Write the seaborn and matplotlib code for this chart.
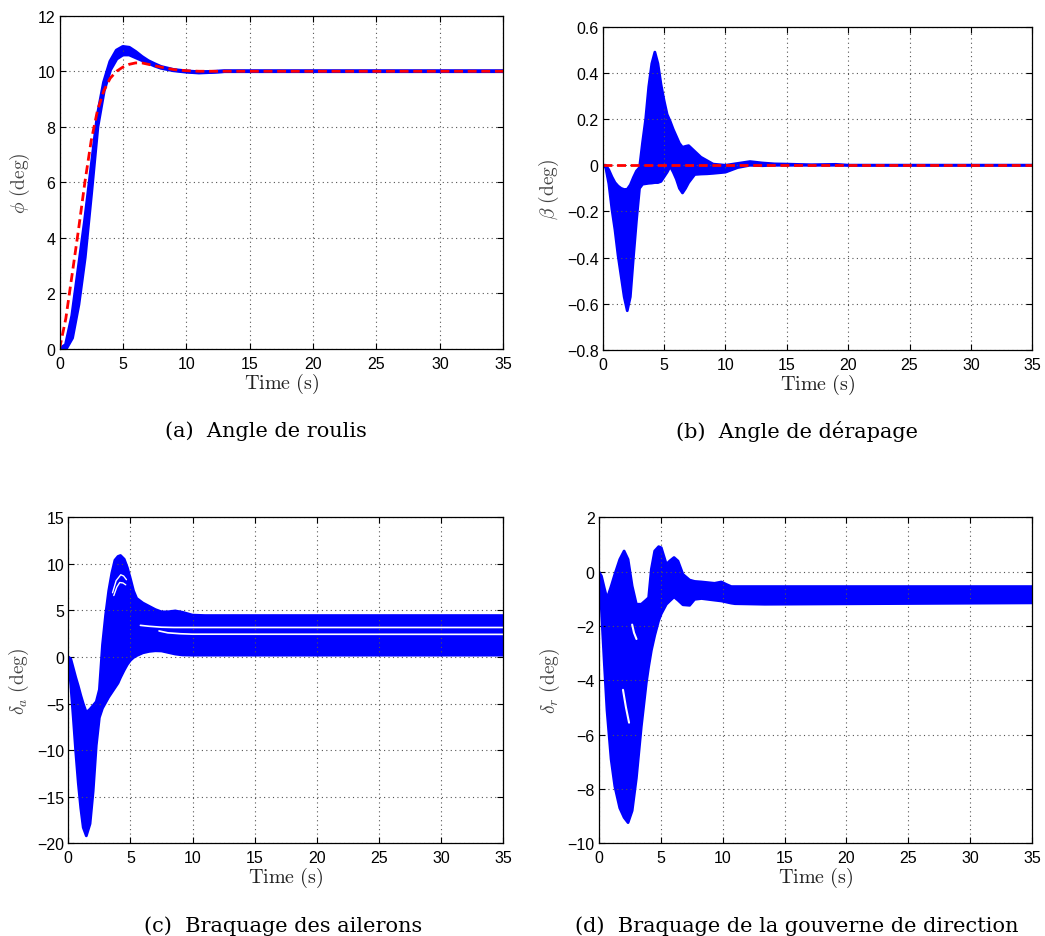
import numpy as np
import pandas as pd
import matplotlib
matplotlib.use("Agg")
import matplotlib.pyplot as plt
import seaborn as sns

# ---------------- data ----------------
# (a) roll angle phi: fastest / slowest simulated runs and the reference
t_a = [0, 0.5, 1, 1.5, 2, 2.5, 3, 3.5, 4, 4.5, 5, 5.5, 6, 6.5, 7, 7.5, 8, 9, 10, 11, 12, 13, 35]
phi_fast = [0, 0.15, 1.2, 2.9, 4.6, 6.5, 8.4, 9.6, 10.35, 10.75, 10.88, 10.85, 10.7, 10.52,
            10.37, 10.26, 10.16, 10.05, 10.0, 9.97, 9.98, 10.0, 10.0]
phi_slow = [0, 0.0, 0.4, 1.6, 3.3, 5.6, 8.0, 9.3, 10.05, 10.45, 10.6, 10.6, 10.5, 10.4,
            10.3, 10.2, 10.12, 10.03, 9.98, 9.95, 9.97, 10.0, 10.0]
phi_ref = [0, 1.1, 2.7, 4.3, 6.0, 7.5, 8.6, 9.3, 9.75, 10.0, 10.15, 10.25, 10.3, 10.3,
           10.25, 10.2, 10.15, 10.06, 10.02, 10.0, 10.0, 10.0, 10.0]

# (b) sideslip angle beta: upper / lower envelope of the runs
t_b = [0, 0.25, 0.5, 0.75, 1.0, 1.25, 1.5, 1.75, 2.0, 2.25, 2.5, 2.75, 3.0, 3.25, 3.5, 3.75,
       4.0, 4.25, 4.5, 4.75, 5.0, 5.25, 5.5, 5.75, 6.0, 6.25, 6.5, 6.75, 7.0, 7.5, 8.0, 8.5,
       9.0, 10.0, 11.0, 12.0, 13.0, 14.0, 15.0, 17.0, 19.0, 20.0, 35.0]
beta_hi = [0, 0, -0.02, -0.05, -0.075, -0.09, -0.1, -0.105, -0.104, -0.085, -0.053, -0.025,
           -0.01, 0.1, 0.2, 0.34, 0.44, 0.49, 0.44, 0.35, 0.28, 0.22, 0.19, 0.155, 0.125,
           0.095, 0.078, 0.082, 0.085, 0.06, 0.035, 0.02, 0.005, 0.0, 0.008, 0.016, 0.01,
           0.006, 0.005, 0.002, 0.004, 0.0, 0.0]
beta_lo = [0, -0.01, -0.08, -0.19, -0.28, -0.39, -0.48, -0.57, -0.63, -0.57, -0.4, -0.24,
           -0.1, -0.082, -0.08, -0.078, -0.077, -0.075, -0.075, -0.07, -0.05, -0.03, -0.005,
           -0.03, -0.06, -0.1, -0.12, -0.1, -0.075, -0.04, -0.038, -0.037, -0.035, -0.03,
           -0.01, 0.0, -0.002, 0.0, 0.0, 0.0, 0.0, 0.0, 0.0]
beta_ref_t = [0, 35]
beta_ref = [0, 0]

# (c) aileron deflection delta_a: envelope and visible gaps between runs
t_c = [0, 0.2, 0.4, 0.6, 0.8, 1.0, 1.2, 1.45, 1.75, 2.0, 2.25, 2.5, 2.75, 3.0, 3.25, 3.5,
       3.75, 4.0, 4.2, 4.5, 4.75, 5.0, 5.25, 5.5, 6.0, 6.5, 7.0, 7.5, 8.0, 8.6, 9.2, 10.0,
       11.0, 35]
da_hi = [0, -0.2, -1.2, -2.2, -3.1, -4.1, -5.0, -5.95, -5.6, -5.2, -4.8, -3.5, 1.3, 4.5,
         7.1, 9.0, 10.4, 10.8, 10.9, 10.5, 9.6, 8.4, 7.1, 6.3, 5.8, 5.45, 5.1, 4.85, 4.85,
         4.95, 4.8, 4.5, 4.45, 4.45]
da_lo = [0, -3.0, -6.5, -10.2, -13.5, -16.2, -18.3, -19.2, -17.9, -14.4, -9.5, -6.5, -5.5,
         -4.9, -4.3, -3.8, -3.3, -2.8, -2.2, -1.4, -0.8, -0.35, -0.05, 0.15, 0.45, 0.6,
         0.67, 0.65, 0.5, 0.32, 0.22, 0.2, 0.2, 0.2]
gap_c1_t = [5.8, 6.5, 7.5, 8.5, 35]
gap_c1 = [3.4, 3.3, 3.2, 3.17, 3.17]
gap_c2_t = [7.3, 8.0, 9.0, 10.0, 35]
gap_c2 = [2.8, 2.6, 2.5, 2.45, 2.43]
gap_c3_t = [3.56, 3.85, 4.22, 4.45, 4.68]
gap_c3 = [6.9, 8.2, 8.83, 8.7, 8.3]
gap_c4_t = [3.66, 3.9, 4.14, 4.4, 4.62]
gap_c4 = [6.6, 7.5, 8.0, 7.95, 7.75]

# (d) rudder deflection delta_r: envelope and visible gaps
t_d = [0, 0.22, 0.45, 0.67, 1.0, 1.3, 1.7, 2.05, 2.37, 2.7, 3.04, 3.44, 3.84, 4.03, 4.25,
       4.52, 4.84, 5.05, 5.46, 5.73, 6.08, 6.4, 6.8, 7.34, 7.74, 8.3, 9.35, 9.9, 10.3, 10.7,
       11.0, 13.4, 35]
dr_hi = [0, -0.16, -0.6, -1.0, -0.55, -0.1, 0.45, 0.76, 0.45, -0.53, -1.2, -1.2, -1.04,
         -0.96, 0.09, 0.76, 0.92, 0.88, 0.27, 0.39, 0.52, 0.39, -0.1, -0.31, -0.36, -0.38,
         -0.43, -0.38, -0.47, -0.55, -0.55, -0.55, -0.55]
dr_lo = [0, -1.4, -3.35, -5.1, -6.9, -7.9, -8.7, -9.05, -9.24, -8.8, -7.6, -5.7, -4.1, -3.5,
         -2.9, -2.35, -1.8, -1.55, -1.2, -1.08, -0.93, -1.05, -1.22, -1.24, -1.02, -0.99,
         -1.05, -1.08, -1.12, -1.16, -1.18, -1.2, -1.15]
gap_d1_t = [2.7, 2.85, 3.05]
gap_d1 = [-1.95, -2.25, -2.48]
gap_d2_t = [1.96, 2.2, 2.45]
gap_d2 = [-4.35, -5.0, -5.56]

x_ticks = [0, 5, 10, 15, 20, 25, 30, 35]
y_ticks_a = [0, 2, 4, 6, 8, 10, 12]
y_ticks_b = [-0.8, -0.6, -0.4, -0.2, 0, 0.2, 0.4, 0.6]
y_labels_b = ["\u22120.8", "\u22120.6", "\u22120.4", "\u22120.2", "0", "0.2", "0.4", "0.6"]
y_ticks_c = [-20, -15, -10, -5, 0, 5, 10, 15]
y_ticks_d = [-10, -8, -6, -4, -2, 0, 2]

ylabels = [r"$\phi\ \mathrm{(deg)}$", r"$\beta\ \mathrm{(deg)}$",
           r"$\delta_a\ \mathrm{(deg)}$", r"$\delta_r\ \mathrm{(deg)}$"]
captions = ["(a)  Angle de roulis", "(b)  Angle de dérapage",
            "(c)  Braquage des ailerons", "(d)  Braquage de la gouverne de direction"]

# ---------------- style ----------------
sns.set_theme(style="white")
plt.rcParams["font.family"] = ["Liberation Sans", "DejaVu Sans"]
plt.rcParams["mathtext.fontset"] = "cm"
plt.rcParams["axes.unicode_minus"] = True

BLUE = "#0000ff"
RED = "#ff0000"

fig = plt.figure(figsize=(10.45, 9.37), dpi=100)
W, H = 1045.0, 937.0


def add_ax(left, top, right, bottom):
    return fig.add_axes([left / W, 1 - bottom / H, (right - left) / W, (bottom - top) / H])


ax_a = add_ax(59.5, 16.7, 503.3, 350.0)
ax_b = add_ax(602.7, 27.7, 1032.3, 351.0)
ax_c = add_ax(68.3, 518.3, 503.3, 844.3)
ax_d = add_ax(598.7, 518.3, 1032.3, 844.3)


def long_df(t, curves):
    parts = []
    for name, y in curves.items():
        parts.append(pd.DataFrame({"t": t, "y": y, "run": name}))
    return pd.concat(parts, ignore_index=True)


def draw_band(ax, t, lo, hi, lw=2.2):
    ax.fill_between(t, lo, hi, color=BLUE, lw=0, zorder=2)
    df = long_df(t, {"lo": lo, "hi": hi})
    sns.lineplot(data=df, x="t", y="y", units="run", estimator=None, sort=False,
                 color=BLUE, lw=lw, ax=ax, legend=False, zorder=3)


def draw_gap(ax, t, y, lw=1.0):
    sns.lineplot(x=t, y=y, color="white", lw=lw, ax=ax, sort=False, estimator=None,
                 legend=False, zorder=4)


def draw_ref(ax, t, y):
    sns.lineplot(x=t, y=y, color=RED, lw=2.0, ax=ax, sort=False, estimator=None,
                 legend=False, zorder=5, dashes=False)
    ax.lines[-1].set_dashes((3.2, 1.7))


# (a)
draw_band(ax_a, t_a, phi_slow, phi_fast, lw=2.6)
draw_ref(ax_a, t_a, phi_ref)
# (b)
draw_band(ax_b, t_b, beta_lo, beta_hi, lw=2.0)
draw_ref(ax_b, beta_ref_t, beta_ref)
# (c)
draw_band(ax_c, t_c, da_lo, da_hi, lw=2.0)
draw_gap(ax_c, gap_c1_t, gap_c1, lw=1.2)
draw_gap(ax_c, gap_c2_t, gap_c2, lw=1.2)
draw_gap(ax_c, gap_c3_t, gap_c3, lw=1.0)
draw_gap(ax_c, gap_c4_t, gap_c4, lw=1.0)
# (d)
draw_band(ax_d, t_d, dr_lo, dr_hi, lw=2.0)
draw_gap(ax_d, gap_d1_t, gap_d1, lw=1.5)
draw_gap(ax_d, gap_d2_t, gap_d2, lw=1.5)

specs = [
    (ax_a, (0, 12), y_ticks_a, None),
    (ax_b, (-0.8, 0.6), y_ticks_b, y_labels_b),
    (ax_c, (-20, 15), y_ticks_c, None),
    (ax_d, (-10, 2), y_ticks_d, None),
]

for i, (ax, ylim, yt, ytl) in enumerate(specs):
    ax.set_xlim(0, 35)
    ax.set_ylim(*ylim)
    ax.set_xticks(x_ticks)
    ax.set_yticks(yt)
    if ytl is not None:
        ax.set_yticklabels(ytl)
    ax.grid(True, color="#555555", linestyle=(0, (1, 3)), lw=0.8)
    ax.set_axisbelow(False)
    for sp in ax.spines.values():
        sp.set_visible(True)
        sp.set_color("black")
        sp.set_linewidth(0.9)
        sp.set_zorder(6)
    ax.tick_params(axis="both", direction="in", length=4, width=0.8, colors="black",
                   labelsize=11.5, top=True, right=True, bottom=True, left=True)
    ax.tick_params(axis="x", pad=5)
    ax.tick_params(axis="y", pad=3)
    ax.set_xlabel(r"$\mathrm{Time\ (s)}$", fontsize=14.5, labelpad=0, color="#222222")
    ax.set_ylabel(ylabels[i], fontsize=14, labelpad=4, color="#444444")

# captions
cap_pos = [(266, 431), (797, 431), (283, 926), (797, 926)]
for (cx, cy), txt in zip(cap_pos, captions):
    fig.text(cx / W, 1 - cy / H, txt, ha="center", va="center", fontsize=15,
             family=["DejaVu Serif"], color="black")

fig.savefig("out.png", dpi=100)
